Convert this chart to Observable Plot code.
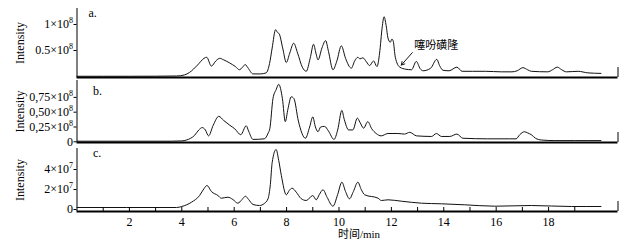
<!DOCTYPE html>
<html><head><meta charset="utf-8">
<script src="https://cdn.jsdelivr.net/npm/d3@7"></script>
<script src="https://cdn.jsdelivr.net/npm/@observablehq/plot@0.6"></script>
<style>
body{margin:0;background:#fff;width:641px;height:248px;overflow:hidden}
#chart svg{display:block;overflow:visible;position:relative}
</style></head><body><div id="chart"></div>
<script>
// retention time (min) and intensity, panel a (×10^8)
const timeA = [0,1,2,3,3.8,4.1,4.3,4.6,4.85,4.95,5.13,5.3,5.45,5.6,5.83,6.05,6.2,6.32,6.42,6.52,6.72,7.0,7.22,7.35,7.45,7.58,7.65,7.72,7.85,7.99,8.12,8.27,8.42,8.6,8.75,8.9,9.03,9.12,9.2,9.35,9.49,9.6,9.77,9.92,10.09,10.25,10.47,10.6,10.72,10.8,10.91,11.05,11.17,11.32,11.45,11.55,11.65,11.72,11.8,11.87,11.96,12.02,12.07,12.15,12.32,12.55,12.77,12.95,13.1,13.21,13.5,13.73,13.85,13.97,14.2,14.5,14.7,15.1,15.6,16.2,16.6,16.8,17.02,17.2,17.34,17.97,18.15,18.33,18.5,18.68,19.13,19.5,20.0];
const intensityA = [0.005,0.005,0.005,0.006,0.01,0.03,0.08,0.22,0.35,0.37,0.20,0.30,0.35,0.32,0.26,0.19,0.13,0.18,0.23,0.17,0.05,0.05,0.07,0.25,0.55,0.90,0.85,0.82,0.55,0.27,0.45,0.64,0.45,0.18,0.10,0.35,0.62,0.45,0.32,0.55,0.69,0.48,0.13,0.30,0.59,0.35,0.16,0.30,0.37,0.34,0.36,0.28,0.21,0.30,0.19,0.45,0.95,1.15,0.98,0.74,0.66,0.72,0.68,0.37,0.18,0.14,0.13,0.29,0.15,0.11,0.16,0.33,0.20,0.12,0.11,0.18,0.10,0.10,0.10,0.09,0.09,0.11,0.17,0.13,0.10,0.09,0.13,0.18,0.13,0.09,0.10,0.07,0.06];

// panel b (×10^8)
const timeB = [0,3.6,4.0,4.18,4.49,4.65,4.78,4.9,5.02,5.2,5.41,5.6,5.83,6.02,6.25,6.46,6.55,6.72,7.15,7.3,7.36,7.48,7.6,7.7,7.84,7.95,8.05,8.18,8.28,8.45,8.72,8.88,9.0,9.1,9.2,9.3,9.45,9.6,9.81,9.95,10.11,10.2,10.37,10.53,10.7,10.8,10.94,11.1,11.25,11.42,11.61,11.87,12.25,12.5,12.7,12.96,13.53,13.72,13.91,14.23,14.5,14.73,15.68,16.5,16.76,16.9,17.08,17.2,17.34,17.5,17.73,18.24,19.0,20.0];
const intensityB = [0.01,0.01,0.015,0.03,0.11,0.20,0.24,0.20,0.10,0.28,0.43,0.36,0.28,0.22,0.12,0.27,0.18,0.04,0.05,0.15,0.22,0.73,0.88,0.97,0.73,0.34,0.55,0.76,0.73,0.35,0.06,0.25,0.42,0.25,0.17,0.25,0.26,0.18,0.04,0.20,0.53,0.38,0.20,0.20,0.40,0.33,0.23,0.34,0.22,0.14,0.10,0.14,0.14,0.13,0.16,0.10,0.09,0.14,0.09,0.09,0.13,0.06,0.05,0.05,0.05,0.12,0.17,0.15,0.12,0.06,0.03,0.02,0.02,0.02];

// panel c (×10^7)
const timeC = [0,3.8,4.0,4.37,4.68,4.85,4.96,5.13,5.38,5.51,5.76,5.95,6.14,6.3,6.43,6.55,6.72,6.97,7.15,7.29,7.38,7.45,7.6,7.7,7.8,7.99,8.1,8.21,8.37,8.55,8.75,9.0,9.13,9.25,9.39,9.55,9.77,9.95,10.11,10.25,10.4,10.55,10.72,10.85,10.98,11.49,11.62,11.87,12.38,13.15,13.91,14.8,15.95,17.34,18.87,20.0];
const intensityC = [0.2,0.2,0.3,0.73,1.4,2.1,2.4,1.8,1.4,1.13,1.23,1.0,0.63,1.0,1.33,1.0,0.5,0.4,0.6,1.07,2.5,4.7,6.0,4.9,3.4,1.47,1.9,2.13,1.73,1.1,0.9,1.4,0.97,1.5,1.97,1.2,0.33,1.5,2.73,1.8,1.07,1.8,2.73,2.0,1.47,1.13,0.9,0.97,0.83,0.63,0.57,0.47,0.33,0.4,0.3,0.3];

const yTicksA = [0.5, 1];
const yTickLabelsA = ["0.5×10^8", "1×10^8"];
const yTicksB = [0, 0.25, 0.5, 0.75];
const yTickLabelsB = ["0", "0,25×10^8", "0,50×10^8", "0,75×10^8"];
const yTicksC = [0, 2, 4];
const yTickLabelsC = ["0", "2×10^7", "4×10^7"];
const xMinorTicks = [1,2,3,4,5,6,7,8,9,10,11,12,13,14,15,16,17,18,19];
const xLabelTicks = [2,4,6,8,10,12,14,16,18];
const panelLetters = ["a.", "b.", "c."];
const yLabel = "Intensity";
const xLabel = "时间/min";
const annotationText = "噻吩磺隆";

const xDomain = [0, 20.65];
const FONT = "'Liberation Serif','Times New Roman','Noto Sans CJK SC',serif";

function panel(o) {
  const data = o.time.map((t, i) => ({t, v: o.values[i]}));
  const plotH = o.height - o.marginTop - o.marginBottom;
  const marks = [
    Plot.ruleX([xDomain[0]], {stroke: "#000", strokeWidth: 1}),
    Plot.line(data, {x: "t", y: "v", stroke: "#111", strokeWidth: 1, curve: "monotone-x"}),
    Plot.ruleY([o.yDomain[0]], {stroke: "#000", strokeWidth: 2}),
    Plot.tickX([xDomain[1]], {x: d => d, stroke: "#000", strokeWidth: 1, insetTop: plotH - 10}),
    Plot.axisY({ticks: o.yTicks, tickFormat: d => o.yLabels[o.yTicks.indexOf(d)], tickSize: 3, tickPadding: 1, label: null, fontSize: 12, fontFamily: FONT}),
    Plot.text([o.letter], {frameAnchor: "top-left", dx: o.letterDx, dy: o.letterDy, fontSize: 12, fontFamily: FONT, fill: "#000"}),
    Plot.text([yLabel], {frameAnchor: "left", textAnchor: "middle", rotate: -90, dx: -57, fontSize: 12, fontFamily: FONT, fill: "#000"})
  ];
  if (o.extra) marks.push(...o.extra(plotH));
  const svg = Plot.plot({
    width: 641, height: o.height,
    marginLeft: 76.5, marginRight: 23.5, marginTop: o.marginTop, marginBottom: o.marginBottom,
    x: {domain: xDomain, axis: null},
    y: {domain: o.yDomain, axis: null},
    style: {fontFamily: FONT, fontSize: "12px", color: "#000", background: "transparent", overflow: "visible"},
    marks
  });
  // superscript exponents on tick labels
  d3.select(svg).selectAll('g[aria-label="y-axis tick label"] text').each(function() {
    const s = d3.select(this);
    const txt = s.text();
    if (txt.includes("^")) {
      const [base, exp] = txt.split("^");
      s.text(base);
      s.append("tspan").attr("font-size", "8px").attr("dy", "-5").text(exp);
    }
  });
  return svg;
}

const root = document.getElementById("chart");
root.append(panel({
  time: timeA, values: intensityA, height: 79, marginTop: 8, marginBottom: 2,
  yDomain: [-0.019, 1.308], yTicks: yTicksA, yLabels: yTickLabelsA,
  letter: panelLetters[0], letterDx: 11.5, letterDy: 0,
  extra: () => [
    Plot.arrow([annotationText], {x1: 12.8, y1: 0.46, x2: 12.38, y2: 0.22, stroke: "#000", strokeWidth: 0.9, headLength: 6}),
    Plot.text([annotationText], {x: 12.87, y: 0.60, textAnchor: "start", fontSize: 11, fontFamily: "'Noto Sans CJK SC',sans-serif", fill: "#000"})
  ]
}));
root.append(panel({
  time: timeB, values: intensityB, height: 67, marginTop: 1, marginBottom: 4,
  yDomain: [-0.012, 1.035], yTicks: yTicksB, yLabels: yTickLabelsB,
  letter: panelLetters[1], letterDx: 16, letterDy: 6
}));
root.append(panel({
  time: timeC, values: intensityC, height: 102, marginTop: 2, marginBottom: 37,
  yDomain: [-0.2, 6.1], yTicks: yTicksC, yLabels: yTickLabelsC,
  letter: panelLetters[2], letterDx: 16, letterDy: 0,
  extra: (plotH) => [
    Plot.tickX(xMinorTicks, {x: d => d, stroke: "#000", strokeWidth: 1, insetTop: plotH - 4}),
    Plot.axisX({ticks: xLabelTicks, tickSize: 0, tickPadding: 6, label: null, fontSize: 12, fontFamily: FONT}),
    Plot.text([xLabel], {frameAnchor: "bottom", lineAnchor: "middle", dx: 11.5, dy: 23, fontSize: 11, fontFamily: FONT, fill: "#000"})
  ]
}));
</script></body></html>
